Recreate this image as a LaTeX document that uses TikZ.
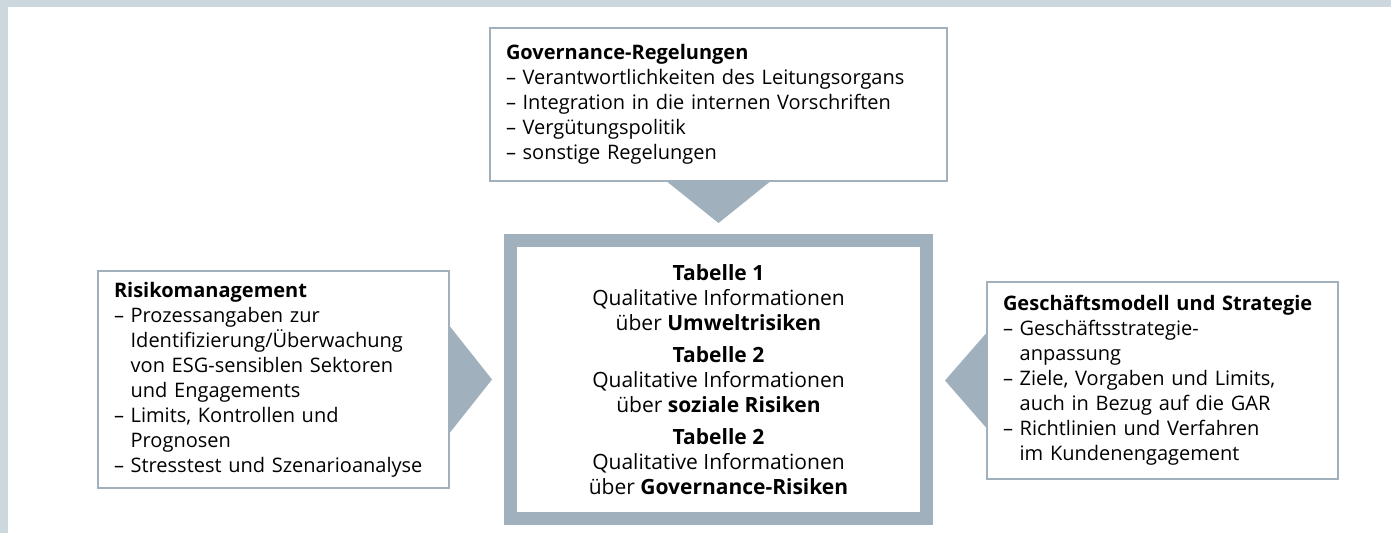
\documentclass[tikz,border=0pt]{standalone}
\usepackage{fontspec}
\setsansfont{Open Sans}
\usetikzlibrary{positioning}

\definecolor{framegrey}{HTML}{A0B1BD}
\definecolor{stripgrey}{HTML}{CDD7DE}

\newcommand{\ind}{\phantom{– }}

\begin{document}
\begin{tikzpicture}[x=1pt, y=-1pt,
    font=\sffamily\fontsize{20}{25}\selectfont,
    info/.style={draw=framegrey, line width=2pt, fill=white, align=left,
        inner xsep=16pt, inner ysep=0pt},
    core/.style={draw=framegrey, line width=13pt, fill=white, align=center,
        inner sep=0pt, font=\sffamily\fontsize{21}{25}\selectfont},
    pointer/.style={fill=framegrey}]
    % Frame
    \useasboundingbox (0,0) rectangle (1391,533);
    \fill[white] (0,0) rectangle (1391,533);
    \fill[stripgrey] (0,0) rectangle (1391,7);
    \fill[stripgrey] (0,0) rectangle (8,533);

    % Nodes
    \node[info, text width=425pt, minimum height=153pt] (gov) at (718.5,104.5)
        {\textbf{Governance-Regelungen}\\
         – Verantwortlichkeiten des Leitungsorgans\\
         – Integration in die internen Vorschriften\\
         – Vergütungspolitik\\
         – sonstige Regelungen};
    \node[core, minimum width=416pt, minimum height=278pt] (tab) at (718.5,379.5)
        {\textbf{Tabelle 1}\\
         Qualitative Informationen\\
         über \textbf{Umweltrisiken}\\[7pt]
         \textbf{Tabelle 2}\\
         Qualitative Informationen\\
         über \textbf{soziale Risiken}\\[7pt]
         \textbf{Tabelle 2}\\
         Qualitative Informationen\\
         über \textbf{Governance-Risiken}};
    \node[info, text width=319pt, minimum height=217pt] (risk) at (273.5,379.5)
        {\textbf{Risikomanagement}\\
         – Prozessangaben zur\\
         \ind Identifizierung/Überwachung\\
         \ind von ESG-sensiblen Sektoren\\
         \ind und Engagements\\
         – Limits, Kontrollen und\\
         \ind Prognosen\\
         – Stresstest und Szenarioanalyse};
    \node[info, text width=319pt, minimum height=197pt] (strat) at (1162.5,380.5)
        {\textbf{Geschäftsmodell und Strategie}\\
         – Geschäftsstrategie-\\
         \ind anpassung\\
         – Ziele, Vorgaben und Limits,\\
         \ind auch in Bezug auf die GAR\\
         – Richtlinien und Verfahren\\
         \ind im Kundenengagement};

    % Pointers
    \fill[pointer] ([xshift=-51pt]gov.south) -- ([xshift=51pt]gov.south)
        -- ([yshift=-41pt]gov.south) -- cycle;
    \fill[pointer] ([yshift=53pt]risk.east) -- ([yshift=-53pt]risk.east)
        -- ([xshift=42pt]risk.east) -- cycle;
    \fill[pointer] ([yshift=47pt]strat.west) -- ([yshift=-47pt]strat.west)
        -- ([xshift=-41pt]strat.west) -- cycle;
\end{tikzpicture}
\end{document}
